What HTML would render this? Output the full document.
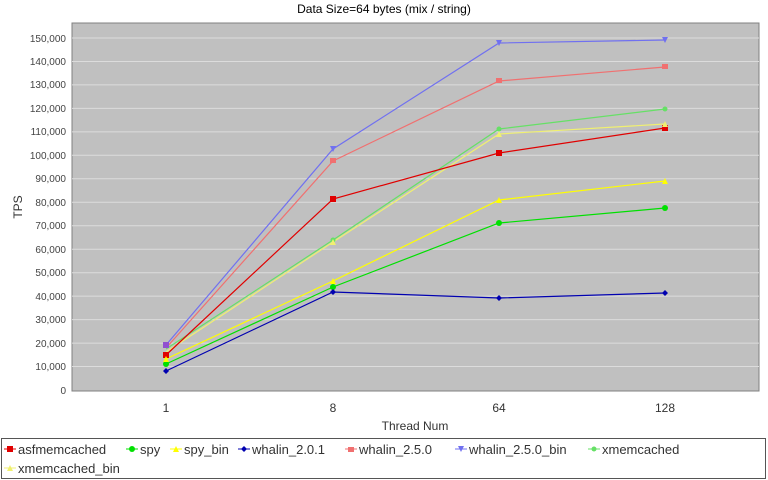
<!DOCTYPE html>
<html><head><meta charset="utf-8"><style>
html,body{margin:0;padding:0;background:#fff;}
svg{display:block;font-family:"Liberation Sans",sans-serif;}
</style></head><body>
<svg width="768" height="480" viewBox="0 0 768 480">
<text x="384" y="13" font-size="12" text-anchor="middle" fill="#000">Data Size=64 bytes (mix / string)</text>
<rect x="72" y="23" width="687" height="368" fill="#c0c0c0" stroke="#808080"/>
<g stroke="#dcdcdc" stroke-width="1">
<line x1="72" x2="759" y1="366.5" y2="366.5"/><line x1="72" x2="759" y1="343.1" y2="343.1"/>
<line x1="72" x2="759" y1="319.6" y2="319.6"/><line x1="72" x2="759" y1="296.1" y2="296.1"/>
<line x1="72" x2="759" y1="272.7" y2="272.7"/><line x1="72" x2="759" y1="249.2" y2="249.2"/>
<line x1="72" x2="759" y1="225.7" y2="225.7"/><line x1="72" x2="759" y1="202.3" y2="202.3"/>
<line x1="72" x2="759" y1="178.8" y2="178.8"/><line x1="72" x2="759" y1="155.3" y2="155.3"/>
<line x1="72" x2="759" y1="131.9" y2="131.9"/><line x1="72" x2="759" y1="108.4" y2="108.4"/>
<line x1="72" x2="759" y1="84.9" y2="84.9"/><line x1="72" x2="759" y1="61.5" y2="61.5"/>
<line x1="72" x2="759" y1="38" y2="38"/>
</g>
<g font-size="10" fill="#444" text-anchor="end">
<text x="66" y="394">0</text><text x="66" y="370">10,000</text><text x="66" y="347">20,000</text>
<text x="66" y="323">30,000</text><text x="66" y="300">40,000</text><text x="66" y="276">50,000</text>
<text x="66" y="253">60,000</text><text x="66" y="229">70,000</text><text x="66" y="206">80,000</text>
<text x="66" y="182">90,000</text><text x="66" y="159">100,000</text><text x="66" y="135">110,000</text>
<text x="66" y="112">120,000</text><text x="66" y="88">130,000</text><text x="66" y="65">140,000</text>
<text x="66" y="42">150,000</text>
</g>
<g font-size="12" fill="#333" text-anchor="middle">
<text x="166" y="412">1</text><text x="333" y="412">8</text><text x="499" y="412">64</text><text x="665" y="412">128</text>
<text x="415" y="430">Thread Num</text>
</g>
<text x="0" y="0" font-size="12" fill="#333" text-anchor="middle" transform="translate(22,207) rotate(-90)">TPS</text>
<g fill="none" stroke-width="1.2">
<polyline stroke="#f0f070" points="166,352 333,242 499,134 665,124"/>
<polyline stroke="#66e066" points="166,349 333,240 499,129 665,109"/>
<polyline stroke="#7070f0" points="166,345 333,149 499,43 665,40"/>
<polyline stroke="#f07070" points="166,348 333,161 499,81 665,67"/>
<polyline stroke="#0000b0" points="166,371 333,292 499,298 665,293"/>
<polyline stroke="#ffff00" points="166,359 333,281 499,200 665,181"/>
<polyline stroke="#00e000" points="166,364 333,287 499,223 665,208"/>
<polyline stroke="#e00000" points="166,355 333,199 499,153 665,128"/>
</g>
<g fill="#e00000"><rect x="163" y="352" width="6" height="6"/><rect x="330" y="196" width="6" height="6"/><rect x="496" y="150" width="6" height="6"/><rect x="662" y="125" width="6" height="6"/></g>
<g fill="#00e000"><circle cx="333" cy="287" r="3"/><circle cx="499" cy="223" r="3"/><circle cx="665" cy="208" r="3"/><circle cx="166" cy="364" r="3"/></g>
<g fill="#ffff00"><path d="M330,284h6l-3,-6z M496,203h6l-3,-6z M662,184h6l-3,-6z M163,362h6l-3,-6z"/></g>
<g fill="#0000b0"><path d="M166,368l3,3l-3,3l-3,-3z M333,289l3,3l-3,3l-3,-3z M499,295l3,3l-3,3l-3,-3z M665,290l3,3l-3,3l-3,-3z"/></g>
<g fill="#f07070"><rect x="330" y="158" width="6" height="5"/><rect x="496" y="78" width="6" height="5"/><rect x="662" y="64" width="6" height="5"/></g>
<g fill="#7070f0"><rect x="163" y="342" width="6" height="6" fill="#9050d0"/><path d="M330,146h6l-3,6z M496,40h6l-3,6z M662,37h6l-3,6z"/></g>
<g fill="#66e066"><circle cx="333" cy="240" r="2.5"/><circle cx="499" cy="129" r="2.5"/><circle cx="665" cy="109" r="2.5"/></g>
<g fill="#f0f070"><path d="M330,245h6l-3,-6z M496,137h6l-3,-6z M662,127h6l-3,-6z"/></g>
<rect x="1.5" y="438.5" width="764" height="40" fill="#fff" stroke="#555"/>
<g font-size="13" fill="#333">
<line x1="4" x2="16" y1="449" y2="449" stroke="#e00000"/><rect x="7" y="446" width="6" height="6" fill="#e00000"/><text x="18" y="454">asfmemcached</text>
<line x1="126" x2="138" y1="449" y2="449" stroke="#00e000"/><circle cx="132" cy="449" r="3" fill="#00e000"/><text x="140" y="454">spy</text>
<line x1="170" x2="182" y1="449" y2="449" stroke="#ffff00"/><path d="M173,452h6l-3,-6z" fill="#ffff00"/><text x="184" y="454">spy_bin</text>
<line x1="238" x2="250" y1="449" y2="449" stroke="#0000b0"/><path d="M244,446l3,3l-3,3l-3,-3z" fill="#0000b0"/><text x="252" y="454">whalin_2.0.1</text>
<line x1="345" x2="357" y1="449" y2="449" stroke="#f07070"/><rect x="348" y="447" width="6" height="5" fill="#f07070"/><text x="359" y="454">whalin_2.5.0</text>
<line x1="455" x2="467" y1="449" y2="449" stroke="#7070f0"/><path d="M458,446h6l-3,6z" fill="#7070f0"/><text x="469" y="454">whalin_2.5.0_bin</text>
<line x1="588" x2="600" y1="449" y2="449" stroke="#66e066"/><circle cx="594" cy="449" r="2.5" fill="#66e066"/><text x="602" y="454">xmemcached</text>
<line x1="4" x2="16" y1="468" y2="468" stroke="#f0f070"/><path d="M7,471h6l-3,-6z" fill="#f0f070"/><text x="18" y="473">xmemcached_bin</text>
</g>
</svg>
</body></html>
